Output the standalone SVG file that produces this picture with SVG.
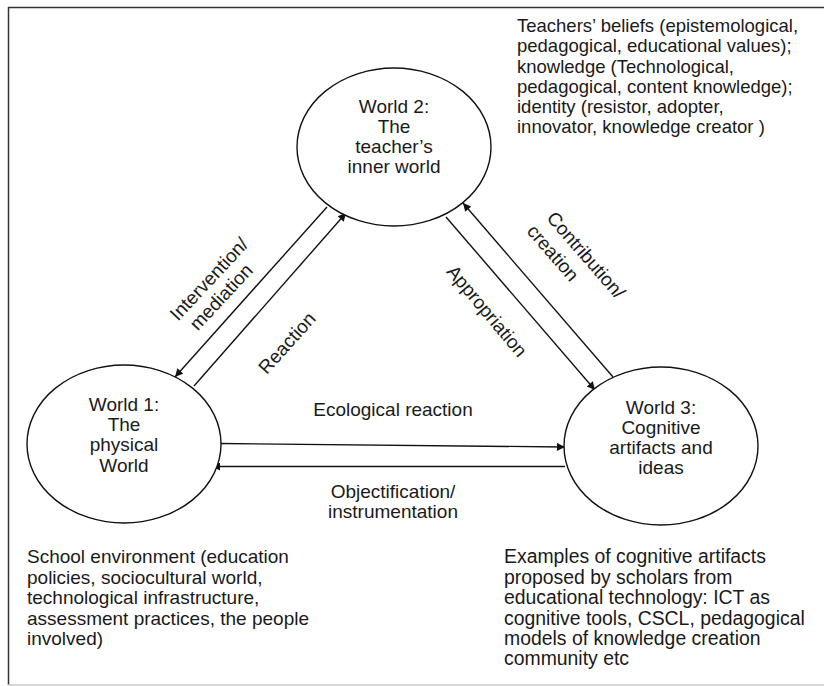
<svg xmlns="http://www.w3.org/2000/svg" width="824" height="686" viewBox="0 0 824 686">
  <defs>
    <marker id="arrow" viewBox="0 0 10 10" refX="10" refY="5" markerWidth="10" markerHeight="8" markerUnits="userSpaceOnUse" orient="auto">
      <path d="M0,0 L10,5 L0,10 Z" fill="#111"/>
    </marker>
    <style>
      text { font-family: "Liberation Sans", Arial, sans-serif; font-size: 19px; fill: #1a1a1a; }
      .node ellipse { fill: #fff; stroke: #111; stroke-width: 1.4; }
      .node text { text-anchor: middle; }
      .conn line { stroke: #111; stroke-width: 1.4; fill: none; }
      .lbl { text-anchor: middle; }
      #note-world2 text { font-size: 18.5px; }
      #note-world3 text { font-size: 19.4px; }
      .frame-dark { stroke: #333; stroke-width: 1.5; }
      .frame-light { stroke: #c8c8c8; stroke-width: 1.5; }
    </style>
  </defs>

  <rect width="824" height="686" fill="#fff"/>

  <!-- frame -->
  <line class="frame-dark" x1="8" y1="7.5" x2="824" y2="7.5"/>
  <line class="frame-dark" x1="8.5" y1="7" x2="8.5" y2="685"/>
  <line class="frame-light" x1="8" y1="685" x2="824" y2="685"/>

  <!-- connectors -->
  <g id="connectors" class="conn">
    <line x1="327" y1="207" x2="175" y2="377" marker-end="url(#arrow)"/>
    <line x1="194" y1="386" x2="346" y2="213" marker-end="url(#arrow)"/>
    <line x1="446" y1="217" x2="595" y2="390" marker-end="url(#arrow)"/>
    <line x1="613" y1="377" x2="463" y2="203" marker-end="url(#arrow)"/>
    <line x1="220" y1="443.5" x2="565" y2="447" marker-end="url(#arrow)"/>
    <line x1="565" y1="466.5" x2="212" y2="466.5" marker-end="url(#arrow)"/>
  </g>

  <!-- connector labels -->
  <g id="labels">
    <text class="lbl" transform="translate(209,279) rotate(-47)" y="6.5">Intervention/</text>
    <text class="lbl" transform="translate(221,297) rotate(-47)" y="6.5">mediation</text>
    <text class="lbl" transform="translate(287,343) rotate(-48)" y="6.5">Reaction</text>
    <text class="lbl" transform="translate(487,311) rotate(50)" y="6.5">Appropriation</text>
    <text class="lbl" transform="translate(586,255) rotate(49)" y="6.5">Contribution/</text>
    <text class="lbl" transform="translate(553,253) rotate(49)" y="6.5">creation</text>
    <text class="lbl" x="393" y="416">Ecological reaction</text>
    <text class="lbl" x="393" y="498">Objectification/</text>
    <text class="lbl" x="393" y="518">instrumentation</text>
  </g>

  <!-- World 2 -->
  <g id="world2" class="node">
    <ellipse cx="394" cy="147" rx="97" ry="79"/>
    <text x="394" y="113">World 2:</text>
    <text x="394" y="133">The</text>
    <text x="394" y="153">teacher’s</text>
    <text x="394" y="173">inner world</text>
  </g>

  <!-- World 1 -->
  <g id="world1" class="node">
    <ellipse cx="124" cy="444" rx="97" ry="79"/>
    <text x="124" y="411">World 1:</text>
    <text x="124" y="431">The</text>
    <text x="124" y="451">physical</text>
    <text x="124" y="472">World</text>
  </g>

  <!-- World 3 -->
  <g id="world3" class="node">
    <ellipse cx="661" cy="446" rx="97" ry="79"/>
    <text x="661" y="414">World 3:</text>
    <text x="661" y="434">Cognitive</text>
    <text x="661" y="454">artifacts and</text>
    <text x="661" y="474">ideas</text>
  </g>

  <!-- annotations -->
  <g id="note-world2">
    <text x="517" y="32">Teachers’ beliefs (epistemological,</text>
    <text x="517" y="52">pedagogical, educational values);</text>
    <text x="517" y="73">knowledge (Technological,</text>
    <text x="517" y="93">pedagogical, content knowledge);</text>
    <text x="517" y="113">identity (resistor, adopter,</text>
    <text x="517" y="133">innovator, knowledge creator )</text>
  </g>
  <g id="note-world1">
    <text x="27" y="563">School environment (education</text>
    <text x="27" y="584">policies, sociocultural world,</text>
    <text x="27" y="604">technological infrastructure,</text>
    <text x="27" y="625">assessment practices, the people</text>
    <text x="27" y="645">involved)</text>
  </g>
  <g id="note-world3">
    <text x="504" y="563">Examples of cognitive artifacts</text>
    <text x="504" y="584">proposed by scholars from</text>
    <text x="504" y="604">educational technology: ICT as</text>
    <text x="504" y="625">cognitive tools, CSCL, pedagogical</text>
    <text x="504" y="645">models of knowledge creation</text>
    <text x="504" y="665">community etc</text>
  </g>
</svg>
